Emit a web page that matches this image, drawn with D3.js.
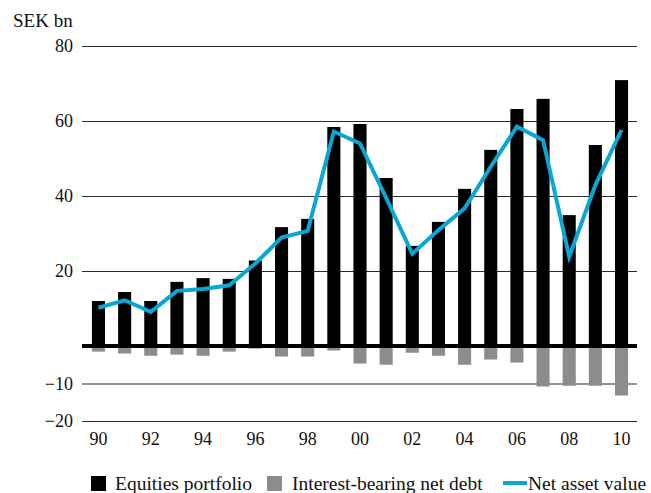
<!DOCTYPE html>
<html>
<head>
<meta charset="utf-8">
<script src="https://cdn.jsdelivr.net/npm/d3@7"></script>
<style>
  html, body { margin: 0; padding: 0; background: #fff; }
  svg { display: block; }
  svg text { font-family: "Liberation Serif", "DejaVu Serif", serif !important; font-feature-settings: "onum"; }
</style>
</head>
<body>
<svg id="chart" width="651" height="493"></svg>
<script>
// ---- Data ----
const categories = ["90","91","92","93","94","95","96","97","98","99","00","01","02","03","04","05","06","07","08","09","10"];
const equitiesPortfolio = [12.0,14.4,12.0,17.1,18.1,17.9,22.8,31.7,33.9,58.4,59.2,44.8,26.7,33.1,41.9,52.3,63.2,65.9,34.9,53.6,70.9];
const netDebt = [-1.5,-2.0,-2.6,-2.3,-2.6,-1.5,-0.7,-2.8,-2.8,-1.2,-4.7,-5.0,-1.8,-2.6,-5.0,-3.6,-4.4,-10.8,-10.6,-10.6,-13.2];
const netAssetValue = [10.2,12.2,9.1,14.7,15.2,16.2,22.0,28.9,30.7,57.2,54.0,39.5,24.6,30.9,36.7,47.8,58.5,54.9,23.8,42.9,57.6];
const xTickLabels = ["90","92","94","96","98","00","02","04","06","08","10"];
const yTickValues = [-20,-10,20,40,60,80];
const seriesNames = ["Equities portfolio","Interest-bearing net debt","Net asset value"];
const unitLabel = "SEK bn";

// ---- Layout ----
const svg = d3.select("#chart");
const gridLeft = 82, gridRight = 637;
const colors = { eq: "#000000", debt: "#8c8c8c", nav: "#0aa6d4" };
const serif = "'Liberation Serif', 'DejaVu Serif', serif";

const x = d3.scaleBand()
  .domain(categories)
  .range([85.4, 634.6])
  .paddingInner(0.5)
  .paddingOuter(0.25);

const y = d3.scaleLinear().domain([-20, 80]).range([421, 46]);

// Gridlines + y labels
const yAxis = d3.axisLeft(y)
  .tickValues(yTickValues)
  .tickSize(-(gridRight - gridLeft))
  .tickPadding(9)
  .tickFormat(d3.format("d"));

const gy = svg.append("g")
  .attr("transform", `translate(${gridLeft},0)`)
  .call(yAxis)
  .attr("font-family", serif)
  .attr("font-size", 18);
gy.select(".domain").remove();
gy.selectAll(".tick line").attr("stroke", "#2a2a2a").attr("stroke-width", 1.2);
gy.selectAll(".tick text").attr("fill", "#111");

// Unit label
svg.append("text")
  .attr("x", 13).attr("y", 27)
  .attr("fill", "#111")
  .attr("font-family", serif)
  .attr("font-size", 19)
  .text(unitLabel);

// Debt bars (negative)
svg.append("g").selectAll("rect")
  .data(categories)
  .join("rect")
  .attr("x", d => x(d))
  .attr("width", x.bandwidth())
  .attr("y", y(0))
  .attr("height", (d, i) => y(netDebt[i]) - y(0))
  .attr("fill", colors.debt);

// Equity bars
svg.append("g").selectAll("rect")
  .data(categories)
  .join("rect")
  .attr("x", d => x(d))
  .attr("width", x.bandwidth())
  .attr("y", (d, i) => y(equitiesPortfolio[i]))
  .attr("height", (d, i) => y(0) - y(equitiesPortfolio[i]))
  .attr("fill", colors.eq);

// Zero line
svg.append("line")
  .attr("x1", gridLeft).attr("x2", gridRight)
  .attr("y1", y(0)).attr("y2", y(0))
  .attr("stroke", "#000").attr("stroke-width", 4);

// NAV line
const line = d3.line()
  .x((d, i) => x(categories[i]) + x.bandwidth() / 2)
  .y(d => y(d));
svg.append("path")
  .datum(netAssetValue)
  .attr("d", line)
  .attr("fill", "none")
  .attr("stroke", colors.nav)
  .attr("stroke-width", 4)
  .attr("stroke-linejoin", "miter");

// X axis labels
const xAxis = d3.axisBottom(x)
  .tickValues(xTickLabels)
  .tickSize(0)
  .tickPadding(11);
const gx = svg.append("g")
  .attr("transform", `translate(0,${y(-20)})`)
  .call(xAxis)
  .attr("font-family", serif)
  .attr("font-size", 18);
gx.select(".domain").remove();
gx.selectAll(".tick text").attr("fill", "#111");

// Legend
const legend = svg.append("g")
  .attr("font-family", serif)
  .attr("font-size", 19.5)
  .attr("fill", "#111");
legend.append("rect").attr("x", 91).attr("y", 476).attr("width", 15).attr("height", 15).attr("fill", colors.eq);
legend.append("text").attr("x", 115).attr("y", 490).text(seriesNames[0]);
legend.append("rect").attr("x", 267).attr("y", 476).attr("width", 15).attr("height", 15).attr("fill", colors.debt);
legend.append("text").attr("x", 292).attr("y", 490).text(seriesNames[1]);
legend.append("line").attr("x1", 503).attr("x2", 527).attr("y1", 483).attr("y2", 483)
  .attr("stroke", colors.nav).attr("stroke-width", 4);
legend.append("text").attr("x", 528).attr("y", 490).text(seriesNames[2]);
</script>
</body>
</html>
